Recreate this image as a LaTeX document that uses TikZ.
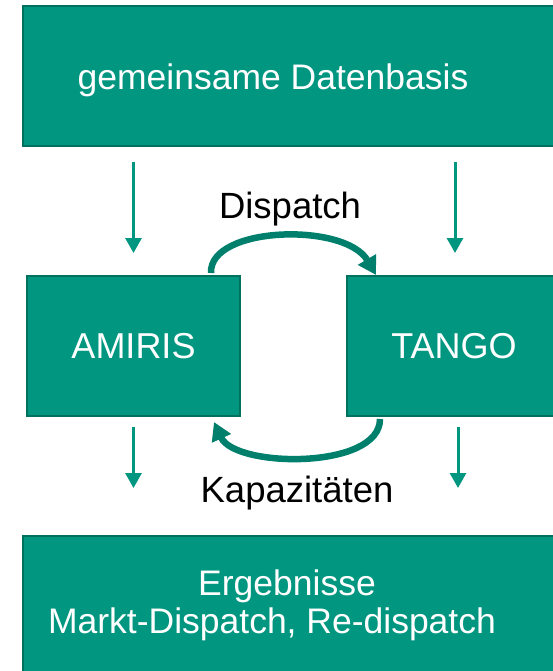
\documentclass[tikz,border=0pt]{standalone}
\usepackage{fontspec}
\setmainfont{Liberation Sans}
\usetikzlibrary{arrows.meta}
\definecolor{teal1}{RGB}{0,150,128}
\definecolor{tealedge}{RGB}{0,112,95}
\definecolor{tealarc}{RGB}{0,128,108}
\tikzset{
  box/.style={draw=tealedge, line width=2pt, fill=teal1, rectangle, inner sep=0pt, anchor=north west,
    text=white, font=\fontsize{36}{40}\selectfont},
  wlbl/.style={text=white, font=\fontsize{35.5}{40}\selectfont, inner sep=0pt, anchor=base},
  blbl/.style={text=black, font=\fontsize{36.5}{40}\selectfont, inner sep=0pt, anchor=base},
  arr/.style={draw=teal1, line width=3pt, -{Triangle[width=16pt,length=15pt]}},
  arc/.style={draw=tealarc, line width=6.5pt, -{Triangle[width=20pt,length=18pt]}},
}
\begin{document}
\begin{tikzpicture}[x=1pt,y=-1pt]
\useasboundingbox (0,0) rectangle (553,671);
\clip (0,0) rectangle (553,671);
\node[box, minimum width=560pt, minimum height=140pt] (top) at (22,5) {};
\node[wlbl] (toptxt) at (273,90) {gemeinsame Datenbasis};
\node[box, minimum width=213pt, minimum height=140pt] (amiris) at (26,275) {AMIRIS};
\node[box, minimum width=214pt, minimum height=140pt] (tango) at (346,275) {TANGO};
\node[box, minimum width=560pt, minimum height=160pt] (bottom) at (22,535) {};
\node[wlbl] (erg1) at (287,595) {Ergebnisse};
\node[wlbl] (erg2) at (272,633) {Markt-Dispatch, Re-dispatch};
\node[blbl] (disp) at (290,218) {Dispatch};
\node[blbl] (kap) at (297,502) {Kapazitäten};
% straight arrows
\draw[arr] ([yshift=-15pt]top.south -| amiris.north) -- ([yshift=22pt]amiris.north);
\draw[arr] ([xshift=109pt,yshift=-15pt]top.south -| tango.north west) -- ([xshift=109pt,yshift=22pt]tango.north west);
\draw[arr] ([yshift=-10pt]amiris.south) -- ([yshift=47pt]bottom.north -| amiris.south);
\draw[arr] ([xshift=112pt,yshift=-10pt]tango.south west) -- ([xshift=112pt,yshift=47pt]bottom.north -| tango.south west);
% curved arrows
\draw[arc] ([xshift=-30pt,yshift=2pt]amiris.north east) .. controls (209,226) and (345,222) .. ([xshift=30pt]tango.north west);
\draw[arc] ([xshift=34pt,yshift=-2pt]tango.south west) .. controls (380,470) and (235,468) .. ([xshift=-27pt,yshift=-5pt]amiris.south east);
\end{tikzpicture}
\end{document}
